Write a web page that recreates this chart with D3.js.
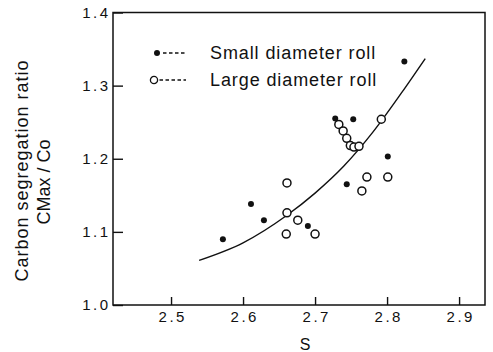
<!DOCTYPE html>
<html>
<head>
<meta charset="utf-8">
<script src="https://cdn.jsdelivr.net/npm/d3@7"></script>
<style>
  html, body { margin: 0; padding: 0; background: #fff; }
  text { font-family: "Liberation Sans", Arial, sans-serif; fill: #111; }
</style>
</head>
<body>
<div id="chartArea"></div>
<script>
// small diameter roll (filled dots)
const smallS = [2.572, 2.611, 2.629, 2.690, 2.728, 2.753, 2.744, 2.801, 2.824];
const smallRatio = [1.090, 1.138, 1.116, 1.108, 1.255, 1.254, 1.165, 1.203, 1.333];

// large diameter roll (open circles)
const largeS = [2.661, 2.661, 2.660, 2.676, 2.700, 2.733, 2.739, 2.744, 2.749, 2.754, 2.761, 2.792, 2.772, 2.801, 2.765];
const largeRatio = [1.167, 1.126, 1.097, 1.116, 1.097, 1.247, 1.238, 1.228, 1.218, 1.216, 1.217, 1.254, 1.175, 1.175, 1.156];

// hand drawn trend curve
const fitS = [2.539, 2.60, 2.66, 2.70, 2.74, 2.78, 2.82, 2.853];
const fitRatio = [1.061, 1.085, 1.122, 1.153, 1.190, 1.236, 1.290, 1.337];

const xTicks = [2.5, 2.6, 2.7, 2.8, 2.9];
const yTicks = [1.0, 1.1, 1.2, 1.3, 1.4];
const legendLabels = ['Small diameter roll', 'Large diameter roll'];

const W = 493, H = 352;
const margin = {top: 12.5, right: 8, bottom: 47, left: 113};
const width = W - margin.left - margin.right;
const height = H - margin.top - margin.bottom;

const svg = d3.select('#chartArea')
    .append('svg')
    .attr('width', W)
    .attr('height', H);

const g = svg.append('g')
    .attr('transform', `translate(${margin.left},${margin.top})`);

const x = d3.scaleLinear().domain([2.4194, 2.936]).range([0, width]);
const y = d3.scaleLinear().domain([1.0, 1.4]).range([height, 0]);

const xAxis = g.append('g')
    .attr('transform', `translate(0,${height})`)
    .call(d3.axisBottom(x).tickValues(xTicks).tickSize(-8).tickPadding(6).tickFormat(d3.format('.1f')));

const yAxis = g.append('g')
    .call(d3.axisLeft(y).tickValues(yTicks).tickSize(-10).tickPadding(2.5).tickFormat(d3.format('.1f')));

[xAxis, yAxis].forEach(a => {
    a.select('.domain').remove();
    a.selectAll('line').attr('stroke', '#111').attr('stroke-width', 1.4);
    a.selectAll('text')
        .attr('font-size', '15px')
        .attr('letter-spacing', '2.5px')
        .attr('font-family', '"Liberation Sans", Arial, sans-serif')
        .attr('fill', '#111');
});
xAxis.selectAll('text').attr('dx', '1.2px');

g.append('rect')
    .attr('width', width)
    .attr('height', height)
    .attr('fill', 'none')
    .attr('stroke', '#111')
    .attr('stroke-width', 1.5);

// trend curve
const line = d3.line()
    .x((d, i) => x(fitS[i]))
    .y(d => y(d))
    .curve(d3.curveMonotoneX);

g.append('path')
    .datum(fitRatio)
    .attr('d', line)
    .attr('fill', 'none')
    .attr('stroke', '#111')
    .attr('stroke-width', 1.4);

g.selectAll('.large')
    .data(largeS)
    .enter()
    .append('circle')
    .attr('class', 'large')
    .attr('cx', d => x(d))
    .attr('cy', (d, i) => y(largeRatio[i]))
    .attr('r', 4)
    .attr('fill', '#fff')
    .attr('stroke', '#111')
    .attr('stroke-width', 1.5);

g.selectAll('.small')
    .data(smallS)
    .enter()
    .append('circle')
    .attr('class', 'small')
    .attr('cx', d => x(d))
    .attr('cy', (d, i) => y(smallRatio[i]))
    .attr('r', 3)
    .attr('fill', '#111');

// legend
const legend = svg.append('g');
const rows = legend.selectAll('g')
    .data(legendLabels)
    .enter()
    .append('g')
    .attr('transform', (d, i) => `translate(0,${i === 0 ? 53 : 80})`);

rows.append('circle')
    .attr('cx', (d, i) => i === 0 ? 157 : 154)
    .attr('cy', 0)
    .attr('r', (d, i) => i === 0 ? 3 : 3.6)
    .attr('fill', (d, i) => i === 0 ? '#111' : '#fff')
    .attr('stroke', '#111')
    .attr('stroke-width', (d, i) => i === 0 ? 0 : 1.3);

rows.append('line')
    .attr('x1', (d, i) => i === 0 ? 163 : 159.5)
    .attr('x2', 186)
    .attr('y1', 0)
    .attr('y2', 0)
    .attr('stroke', '#111')
    .attr('stroke-width', 1.3)
    .attr('stroke-dasharray', '3.5,2.5');

rows.append('text')
    .attr('x', 210)
    .attr('y', 6)
    .attr('font-size', '18px')
    .attr('letter-spacing', '0.9px')
    .text(d => d);

// axis titles
svg.append('text')
    .attr('x', 305)
    .attr('y', 350)
    .attr('text-anchor', 'middle')
    .attr('font-size', '16px')
    .text('S');

svg.append('text')
    .attr('transform', 'translate(28,170.5) rotate(-90)')
    .attr('text-anchor', 'middle')
    .attr('font-size', '18px')
    .attr('letter-spacing', '1px')
    .text('Carbon segregation ratio');

svg.append('text')
    .attr('transform', 'translate(50,182) rotate(-90)')
    .attr('text-anchor', 'middle')
    .attr('font-size', '18px')
    .text('CMax / Co');
</script>
</body>
</html>
